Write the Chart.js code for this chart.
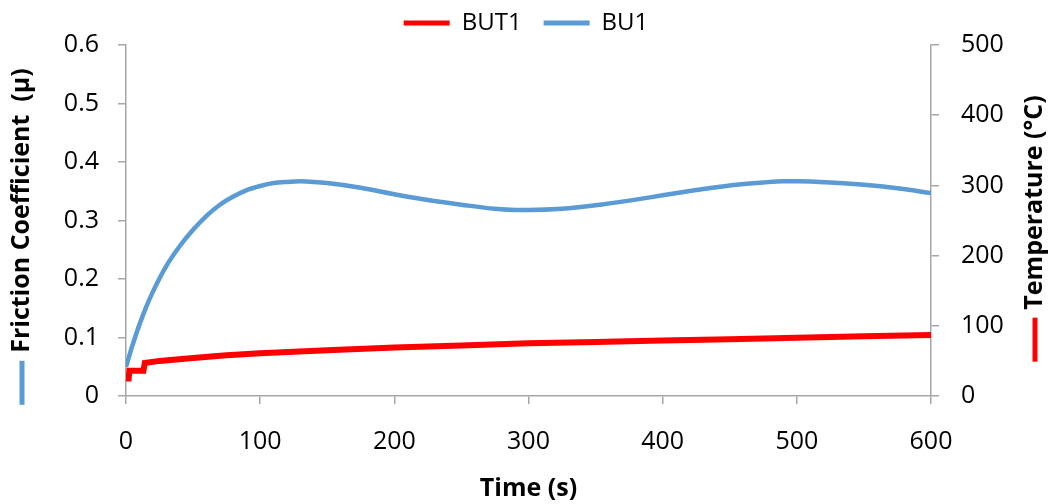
<!DOCTYPE html>
<html>
<head>
<meta charset="utf-8">
<script src="https://cdn.jsdelivr.net/npm/chart.js@4"></script>
<style>
  html, body { margin: 0; padding: 0; background: #fff; }
  #wrap { width: 1052px; height: 504px; }
</style>
</head>
<body>
<div id="wrap"><canvas id="chart" width="1052" height="504"></canvas></div>
<script>
// BUT1 -> temperature (right axis), BU1 -> friction coefficient (left axis)
const timeBUT1 = [0, 2, 2.5, 13, 14, 25, 50, 75, 100, 150, 200, 250, 300, 350, 400, 450, 500, 550, 600];
const tempBUT1 = [25, 25, 36, 36, 47, 50, 54, 58, 61, 65, 69, 72, 75, 77, 79, 81, 83, 85, 87];

const timeBU1 = [0, 5, 10, 15, 20, 30, 40, 50, 60, 70, 80, 90, 100, 110, 120, 130, 140, 150, 175,
  200, 225, 250, 275, 290, 300, 325, 350, 375, 400, 425, 450, 475, 490, 500, 525, 550, 575, 600];
const muBU1 = [0.050, 0.088, 0.122, 0.152, 0.178, 0.222, 0.256, 0.284, 0.308, 0.327, 0.341, 0.352,
  0.359, 0.364, 0.366, 0.367, 0.366, 0.364, 0.356, 0.345, 0.335, 0.327, 0.320, 0.318, 0.318, 0.320,
  0.326, 0.334, 0.343, 0.352, 0.360, 0.365, 0.367, 0.367, 0.365, 0.361, 0.355, 0.347];

const xTicks = [0, 100, 200, 300, 400, 500, 600];
const muTicks = [0, 0.1, 0.2, 0.3, 0.4, 0.5, 0.6];
const tempTicks = [0, 100, 200, 300, 400, 500];

const RED = "#ff0000";
const BLUE = "#5b9bd5";
const AXIS = "#a6a6a6";
const FONT = "'Open Sans', 'Liberation Sans', sans-serif";

function pts(xs, ys) {
  return xs.map((x, i) => ({ x, y: ys[i] }));
}

// axis titles with the little series key next to them, both read bottom-to-top
const axisTitles = {
  id: "axisTitles",
  afterDraw(chart) {
    const { ctx, chartArea } = chart;
    const mid = (chartArea.top + chartArea.bottom) / 2;
    const items = [
      { text: "Friction Coefficient  (μ)", x: chart.scales.y.left + 22, cy: mid - 10, color: BLUE },
      { text: "Temperature (°C)", x: chart.scales.y1.right - 17, cy: mid - 18, color: RED },
    ];
    ctx.save();
    ctx.font = "bold 25px " + FONT;
    ctx.fillStyle = "#000";
    ctx.textAlign = "center";
    ctx.textBaseline = "middle";
    for (const it of items) {
      const w = ctx.measureText(it.text).width;
      ctx.save();
      ctx.translate(it.x, it.cy);
      ctx.rotate(-Math.PI / 2);
      ctx.fillText(it.text, 0, 0);
      ctx.restore();
      const y0 = it.cy + w / 2 + 8;
      ctx.strokeStyle = it.color;
      ctx.lineWidth = 5;
      ctx.beginPath();
      ctx.moveTo(it.x, y0);
      ctx.lineTo(it.x, y0 + 44);
      ctx.stroke();
    }
    ctx.restore();
  },
};

const tickFont = { family: FONT, size: 25 };

new Chart(document.getElementById("chart"), {
  type: "line",
  data: {
    datasets: [
      {
        label: "BUT1",
        data: pts(timeBUT1, tempBUT1),
        borderColor: RED,
        backgroundColor: RED,
        borderWidth: 6,
        tension: 0,
        pointRadius: 0,
        yAxisID: "y1",
      },
      {
        label: "BU1",
        data: pts(timeBU1, muBU1),
        borderColor: BLUE,
        backgroundColor: BLUE,
        borderWidth: 4.5,
        cubicInterpolationMode: "monotone",
        pointRadius: 0,
        yAxisID: "y",
      },
    ],
  },
  options: {
    responsive: false,
    animation: false,
    layout: { padding: { top: -13, left: 0, right: 0, bottom: 0 } },
    plugins: {
      tooltip: { enabled: false },
      legend: {
        position: "top",
        labels: {
          color: "#000",
          font: { family: FONT, size: 24 },
          boxWidth: 46,
          boxHeight: 5,
          padding: 22,
          generateLabels(chart) {
            const items = Chart.defaults.plugins.legend.labels.generateLabels(chart);
            return items.map((it) => ({ ...it, lineWidth: 0 }));
          },
        },
      },
    },
    scales: {
      x: {
        type: "linear",
        min: 0,
        max: 600,
        afterBuildTicks: (s) => { s.ticks = xTicks.map((v) => ({ value: v })); },
        afterFit: (s) => { s.height = 108; },
        border: { color: AXIS, width: 1.5 },
        grid: { drawOnChartArea: false, color: AXIS, tickLength: 8, lineWidth: 1.5 },
        ticks: { color: "#000", font: tickFont, padding: 23, maxRotation: 0 },
        title: {
          display: true,
          text: "Time (s)",
          color: "#000",
          font: { family: FONT, size: 25, weight: "bold" },
          padding: { top: 0, bottom: 0 },
        },
      },
      y: {
        position: "left",
        min: 0,
        max: 0.6,
        afterBuildTicks: (s) => { s.ticks = muTicks.map((v) => ({ value: v })); },
        afterFit: (s) => { s.width = 126; s.paddingTop = 45; },
        border: { color: AXIS, width: 1.5 },
        grid: { drawOnChartArea: false, color: AXIS, tickLength: 8, lineWidth: 1.5 },
        ticks: { color: "#000", font: tickFont, padding: 19, callback: (v) => String(+v.toFixed(1)) },
      },
      y1: {
        position: "right",
        min: 0,
        max: 500,
        afterBuildTicks: (s) => { s.ticks = tempTicks.map((v) => ({ value: v })); },
        afterFit: (s) => { s.width = 121; },
        border: { color: AXIS, width: 1.5 },
        grid: { drawOnChartArea: false, color: AXIS, tickLength: 8, lineWidth: 1.5 },
        ticks: { color: "#000", font: tickFont, padding: 22 },
      },
    },
  },
  plugins: [axisTitles],
});
</script>
</body>
</html>
